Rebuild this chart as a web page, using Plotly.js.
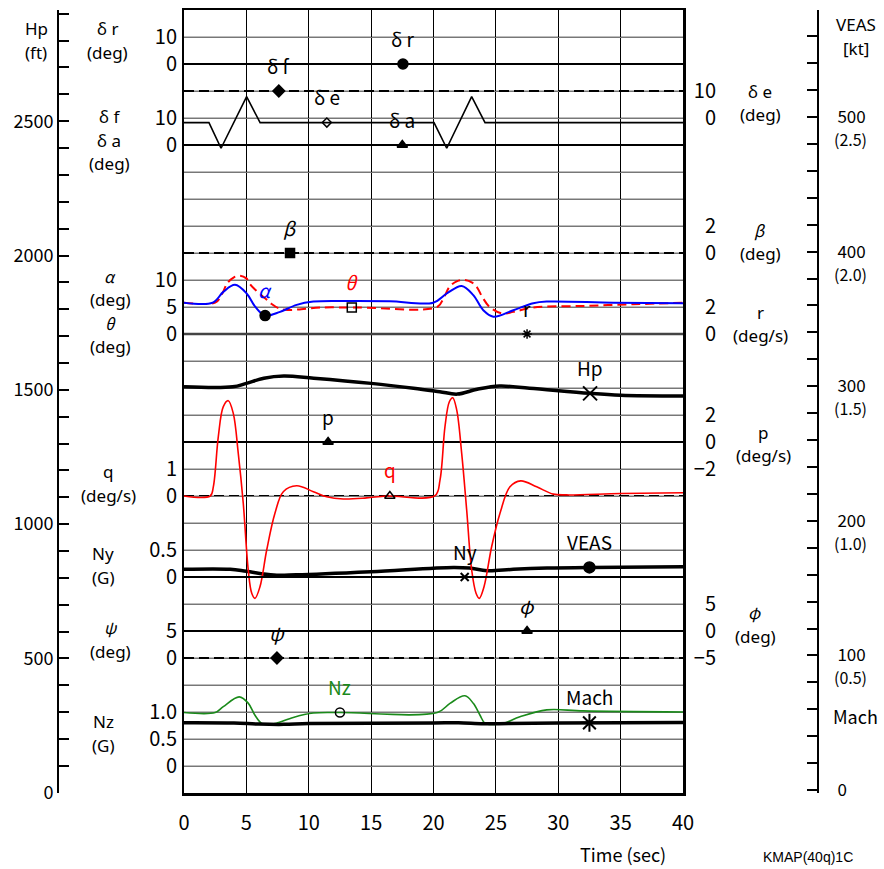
<!DOCTYPE html>
<html><head><meta charset="utf-8">
<script src="https://cdn.plot.ly/plotly-3.0.1.min.js"></script>
<style>html,body{margin:0;padding:0;background:#fff}#chart{width:884px;height:869px}</style>
</head><body><div id="chart"></div>
<script>
// ---------------- DATA ----------------
const tSpan = [0, 40];
const drVals = [0, 0];        // rudder (deg)
const dfVals = [20, 20];      // flap (deg)
const daVals = [0, 0];        // aileron (deg)
const betaVals = [0, 0];      // sideslip (deg)
const rVals = [0, 0];         // yaw rate (deg/s)
const pVals = [0, 0];         // roll rate (deg/s)
const nyVals = [0, 0];        // lateral G
const psiVals = [0, 0];       // heading (deg)
const phiVals = [0, 0];       // bank (deg)

const tDe = [0, 2.0, 2.97, 5.02, 6.1, 20.04, 21.06, 23.06, 24.13, 40];
const deVals = [-1.7, -1.7, -11.2, 7.9, -1.7, -1.7, -11.2, 7.9, -1.7, -1.7];

const tAlpha = [0, 2.3, 3.15, 4.09, 5.02, 5.69, 6.49, 7.7, 9.03, 10.37, 13.04, 16.5, 19.98, 21.06, 22.26, 23.19, 23.99, 24.8, 26.4, 28.0, 29.07, 34.4, 40];
const alphaVals = [5.8, 5.8, 7.8, 9.1, 7.5, 5.1, 3.4, 4.1, 5.4, 6.0, 6.1, 6.05, 5.8, 7.5, 8.9, 7.2, 4.4, 3.2, 4.4, 5.7, 6.0, 5.8, 5.7];

const tTheta = [0, 2.5, 3.0, 3.5, 4.0, 4.5, 5.0, 5.3, 5.8, 6.5, 7.0, 7.6, 8.3, 9.4, 11, 14, 20.3, 20.8, 21.3, 21.9, 22.5, 23.1, 23.5, 23.9, 24.5, 25.5, 26.4, 28, 32, 36, 40];
const thetaVals = [5.8, 5.8, 7.2, 9.5, 10.5, 10.8, 10.3, 9.2, 8.0, 6.6, 5.6, 4.75, 4.45, 4.6, 4.9, 4.9, 5.0, 6.6, 8.8, 9.8, 10.0, 9.5, 8.6, 6.9, 5.0, 3.8, 4.1, 4.9, 5.2, 5.5, 5.8];

const tHp = [0, 3.9, 5.0, 6.4, 8.0, 10.4, 15.0, 18.4, 20.5, 21.9, 23.5, 25.3, 27.7, 32.5, 35, 40];
const hpVals = [1511, 1511, 1524, 1543, 1551, 1543, 1524, 1506, 1493, 1484, 1502, 1514, 1506, 1487, 1480, 1477];

const tQ = [0, 2.1, 2.35, 2.75, 3.15, 3.55, 3.95, 4.35, 4.75, 5.15, 5.43, 5.69, 6.09, 6.63, 7.29, 7.96, 9.03, 10.37, 11.44, 12.77, 14.64, 16.25, 20.12, 20.52, 20.92, 21.27, 21.54, 21.86, 22.26, 22.66, 23.06, 23.41, 23.67, 24.05, 24.66, 25.33, 26.13, 26.99, 28.27, 29.6, 30.67, 35, 40];
const qVals = [0, 0, 0.34, 2.2, 3.31, 3.53, 3.06, 1.58, -0.27, -2.74, -3.6, -3.79, -3.36, -2.0, -0.64, 0.16, 0.38, 0.16, -0.03, -0.11, -0.07, 0, 0.01, 0.59, 2.57, 3.49, 3.64, 3.19, 1.58, -0.52, -2.74, -3.6, -3.79, -3.36, -1.88, -0.64, 0.34, 0.56, 0.34, 0.07, 0.04, 0.09, 0.12];

const tVeas = [0, 3.7, 5.0, 7.2, 9.0, 15.0, 21.6, 22.9, 24.3, 26.4, 29.1, 32.5, 40];
const veasVals = [164.0, 164.0, 162.5, 159.7, 159.9, 162.2, 165.4, 164.9, 162.9, 164.0, 164.9, 165.4, 165.9];

const tNz = [0, 2.5, 3.15, 4.43, 5.16, 5.69, 6.22, 6.8, 7.4, 8.76, 10.37, 12.5, 20.3, 21.32, 22.52, 23.19, 23.73, 24.13, 24.9, 25.6, 26.93, 29.07, 32, 40];
const nzVals = [0.99, 0.99, 1.10, 1.28, 1.16, 0.94, 0.79, 0.77, 0.79, 0.90, 0.98, 0.99, 0.99, 1.16, 1.30, 1.16, 0.94, 0.79, 0.77, 0.79, 0.91, 1.04, 1.02, 1.0];

const tMach = [0, 4, 6, 8, 10, 20, 22, 24, 26, 30, 40];
const machVals = [0.250, 0.249, 0.245, 0.244, 0.247, 0.249, 0.250, 0.246, 0.247, 0.249, 0.251];

// marker times (where each channel's identifying symbol sits)
const drMarkT = 17.55, dfMarkT = 7.6, deMarkT = 11.45, daMarkT = 17.5, betaMarkT = 8.5;
const alphaMarkT = 6.5, thetaMarkT = 13.45, rMarkT = 27.5, hpMarkT = 32.55, pMarkT = 11.55;
const qMarkT = 16.5, nyMarkT = 22.5, veasMarkT = 32.5, psiMarkT = 7.45, phiMarkT = 27.5;
const nzMarkT = 12.5, machMarkT = 32.5;

// tick labels
const xTicks = [0, 5, 10, 15, 20, 25, 30, 35, 40];
const hpTickVals = Array.from({length: 30}, (_, i) => i * 100);
const hpLabelEvery = 500;
const veasTickVals = Array.from({length: 30}, (_, i) => i * 20);
const veasLabelEvery = 100;
const machNotes = ['(0.5)', '(1.0)', '(1.5)', '(2.0)', '(2.5)'];
const machNoteAt = [100, 200, 300, 400, 500];

// ---------------- LAYOUT GEOMETRY ----------------
const W = 884, H = 869;
const PL = 184, PR = 683, PT = 10, PB = 793;
const NG = 29; // horizontal grid rows
const FONT = '"Noto Sans CJK JP", "Noto Sans", sans-serif';
const NAMEFONT = '"Noto Sans", "Noto Sans CJK JP", sans-serif';
const RCOL = 718; // right numeric label column

function interp(ts, vs, t) {
  for (let i = 0; i < ts.length - 1; i++) {
    if (t >= ts[i] && t <= ts[i + 1]) {
      const f = (t - ts[i]) / (ts[i + 1] - ts[i]);
      return vs[i] + f * (vs[i + 1] - vs[i]);
    }
  }
  return vs[vs.length - 1];
}
function chanRange(zero, per) { return [(0 - zero) * per, (NG - zero) * per]; }

const hpRange = [-1, 2914];
const veasRange = [-2.2, 579.5];
const yDom = [1 - PB / H, 1 - PT / H];

const layout = {
  width: W, height: H,
  margin: {l: 0, r: 0, t: 0, b: 0},
  paper_bgcolor: '#fff', plot_bgcolor: '#fff',
  showlegend: false,
  font: {family: FONT, size: 18, color: '#000'},
  xaxis: {domain: [PL / W, PR / W], range: [0, 40], tickvals: xTicks, ticks: '',
    ticklabelstandoff: 10, tickfont: {size: 20}, anchor: 'y',
    showgrid: true, gridcolor: '#000', gridwidth: 1,
    showline: true, mirror: true, linecolor: '#000', linewidth: 2.5, zeroline: false},
  yaxis: {domain: yDom, range: [0, NG], dtick: 1, tick0: 0, anchor: 'x',
    showticklabels: false, ticks: '', showgrid: true, gridcolor: '#777', gridwidth: 1,
    showline: true, mirror: true, linecolor: '#000', linewidth: 2.5, zeroline: false},
  yaxis2: {overlaying: 'y', domain: yDom, anchor: 'free', position: 58 / W, side: 'left', range: hpRange,
    tickvals: hpTickVals, ticktext: hpTickVals.map(v => v % hpLabelEvery === 0 ? String(v) : ''),
    ticks: 'inside', ticklen: 10, tickwidth: 2, tickcolor: '#000', ticklabelstandoff: 0,
    tickfont: {size: 18}, showline: true, linecolor: '#000', linewidth: 2,
    showgrid: false, zeroline: false},
  yaxis3: {overlaying: 'y', domain: yDom, anchor: 'free', position: 818 / W, side: 'right', range: veasRange,
    tickvals: veasTickVals, ticktext: veasTickVals.map(v => v % veasLabelEvery === 0 ? String(v) : ''),
    ticks: 'inside', ticklen: 10, tickwidth: 2, tickcolor: '#000', ticklabelstandoff: 15,
    tickfont: {size: 17}, showline: true, linecolor: '#000', linewidth: 2,
    showgrid: false, zeroline: false},
  annotations: [],
  shapes: []
};

// horizontal chart-paper grid, one line per grid row (drawn in the y-axis domain)
for (let k = 1; k < NG; k++) {
  layout.shapes.push({type: 'line', xref: 'x domain', yref: 'y domain', x0: 0, x1: 1,
    y0: k / NG, y1: k / NG, line: {color: '#7a7a7a', width: 1}, layer: 'below'});
}

// channel axes: [axis name, zero grid row, units per grid row, column, tick values, tick texts]
const chanDefs = [
  ['yaxis4', 27, 10, 'L', [0, 10], ['0', '10']],           // δr
  ['yaxis5', 24, 10, 'L', [0, 10], ['0', '10']],           // δf, δa
  ['yaxis6', 25, 10, 'R', [0, 10], ['0', '10']],           // δe
  ['yaxis7', 20, 2, 'R', [0, 2], ['0', '2']],              // β
  ['yaxis8', 17, 5, 'L', [0, 5, 10], ['0', '5', '10']],    // α, θ
  ['yaxis9', 17, 2, 'R', [0, 2], ['0', '2']],              // r
  ['yaxis10', 13, 2, 'R', [-2, 0, 2], ['−2', '0', '2']],   // p
  ['yaxis11', 11, 1, 'L', [0, 1], ['0', '1']],             // q
  ['yaxis12', 8, 0.5, 'L', [0, 0.5], ['0', '0.5']],        // Ny
  ['yaxis13', 5, 5, 'L', [0, 5], ['0', '5']],              // ψ
  ['yaxis14', 6, 5, 'R', [-5, 0, 5], ['−5', '0', '5']],    // φ
  ['yaxis15', 1, 0.5, 'L', [0, 0.5, 1.0], ['0', '0.5', '1.0']] // Nz
];
chanDefs.forEach(([name, zero, per, col, tv, tt]) => {
  const ax = {overlaying: 'y', domain: yDom, range: chanRange(zero, per), tickvals: tv, ticktext: tt,
    ticks: '', showgrid: false, zeroline: false, showline: false, tickfont: {size: 20}};
  if (col === 'L') { ax.anchor = 'x'; ax.side = 'left'; ax.ticklabelstandoff = 6; }
  else { ax.anchor = 'free'; ax.position = RCOL / W; ax.side = 'left'; ax.ticklabelstandoff = 2; }
  layout[name] = ax;
});
// Mach shares the VEAS scale: (0.5) at 100 kt
layout.yaxis16 = {overlaying: 'y', domain: yDom, range: veasRange.map(v => v / 200), visible: false, showgrid: false, zeroline: false};

// ---------------- TRACES ----------------
// empty trace that registers the base grid axis pair (x, y)
const traces = [{type: 'scatter', mode: 'lines', x: [], y: [], xaxis: 'x', yaxis: 'y', hoverinfo: 'skip'}];
function line(t, v, yax, color, width, dash, shape) {
  traces.push({type: 'scatter', mode: 'lines', x: t, y: v, yaxis: yax, hoverinfo: 'skip',
    line: {color: color, width: width, dash: dash || 'solid', shape: shape || 'linear'}});
}
function mark(tm, ts, vs, yax, symbol, size, label, labColor, lw) {
  const v = interp(ts, vs, tm);
  traces.push({type: 'scatter', mode: 'markers', x: [tm], y: [v], yaxis: yax, hoverinfo: 'skip',
    marker: {symbol: symbol, size: size, color: '#000', line: {color: '#000', width: lw || 1.5}}});
  layout.annotations.push({x: tm, y: v, xref: 'x', yref: yax, text: label, borderpad: 0,
    showarrow: false, yshift: 26, font: {size: 19, color: labColor || '#000'}});
}
const DASH = '10px,5px';

// reference dashed zero for q
layout.shapes.push({type: 'line', xref: 'x', yref: 'y11', x0: 0, x1: 40, y0: 0, y1: 0,
  line: {color: '#000', width: 2, dash: DASH}, layer: 'below'});

line(tSpan, drVals, 'y4', '#000', 2);
line(tSpan, dfVals, 'y5', '#000', 2, DASH);
line(tSpan, daVals, 'y5', '#000', 2);
line(tDe, deVals, 'y6', '#000', 1.6);
line(tSpan, betaVals, 'y7', '#000', 2, DASH);
line(tSpan, rVals, 'y9', '#444', 2.5);
line(tSpan, pVals, 'y10', '#000', 2);
line(tSpan, nyVals, 'y12', '#000', 2.2);
line(tSpan, psiVals, 'y13', '#000', 2, DASH);
line(tSpan, phiVals, 'y14', '#000', 2);
line(tHp, hpVals, 'y2', '#000', 3.5, 'solid', 'spline');
line(tVeas, veasVals, 'y3', '#000', 3.5, 'solid', 'spline');
line(tMach, machVals, 'y16', '#000', 3.5, 'solid', 'spline');
line(tQ, qVals, 'y11', '#ff0000', 1.6, 'solid', 'spline');
line(tNz, nzVals, 'y15', '#1a8a1a', 1.6, 'solid', 'spline');
line(tTheta, thetaVals, 'y8', '#ff0000', 2, '9px,5px', 'spline');
line(tAlpha, alphaVals, 'y8', '#0000ff', 2, 'solid', 'spline');

mark(drMarkT, tSpan, drVals, 'y4', 'circle', 10, 'δ r');
mark(dfMarkT, tSpan, dfVals, 'y5', 'diamond', 9, 'δ f');
mark(deMarkT, tDe, deVals, 'y6', 'diamond-open', 7, 'δ e');
mark(daMarkT, tSpan, daVals, 'y5', 'triangle-up', 9, 'δ a');
mark(betaMarkT, tSpan, betaVals, 'y7', 'square', 9, '<i>β</i>');
mark(alphaMarkT, tAlpha, alphaVals, 'y8', 'circle', 10, '<i>α</i>', '#0000ff');
mark(thetaMarkT, tTheta, thetaVals, 'y8', 'square-open', 9, '<i>θ</i>', '#ff0000');
mark(rMarkT, tSpan, rVals, 'y9', 'asterisk-open', 8, 'r');
mark(hpMarkT, tHp, hpVals, 'y2', 'x-thin-open', 14, 'Hp', '#000', 2);
mark(pMarkT, tSpan, pVals, 'y10', 'triangle-up', 9, 'p');
mark(qMarkT, tQ, qVals, 'y11', 'triangle-up-open', 9, 'q', '#ff0000');
mark(nyMarkT, tSpan, nyVals, 'y12', 'x-thin-open', 8, 'Ny', '#000', 2);
mark(veasMarkT, tVeas, veasVals, 'y3', 'circle', 11, 'VEAS');
mark(psiMarkT, tSpan, psiVals, 'y13', 'diamond', 9, '<i>ψ</i>');
mark(phiMarkT, tSpan, phiVals, 'y14', 'triangle-up', 9, '<i>φ</i>');
mark(nzMarkT, tNz, nzVals, 'y15', 'circle-open', 9, 'Nz', '#1a8a1a');
mark(machMarkT, tMach, machVals, 'y16', 'asterisk-open', 15, 'Mach', '#000', 2);

// ---------------- TEXT LABELS ----------------
function A(text, x, y, size, extra) {
  layout.annotations.push(Object.assign({xref: 'paper', yref: 'paper', x: x / W, y: 1 - y / H,
    xanchor: 'center', yanchor: 'middle', showarrow: false, text: text, borderpad: 0,
    font: {size: size || 16, color: '#000'}}, extra || {}));
}
// stacked channel names: one annotation per line (Greek symbols in the CJK face)
function stack(lines, x, y0, gap) {
  lines.forEach((txt, i) => {
    const greek = txt.indexOf('<i>') === 0;
    const f = greek ? {size: 16, color: '#000', family: FONT} : {size: 17, color: '#000', family: NAMEFONT};
    A(txt, x, y0 + i * gap, f.size, {font: f});
  });
}
stack(['Hp', '(ft)'], 36, 28, 24);
stack(['δ r', '(deg)'], 107, 28, 24);
stack(['δ f', 'δ a', '(deg)'], 109, 116, 24);
stack(['<i>α</i>', '(deg)', '<i>θ</i>', '(deg)'], 110, 276, 23.5);
stack(['q', '(deg/s)'], 108, 471, 24.5);
stack(['Ny', '(G)'], 103, 553, 24);
stack(['<i>ψ</i>', '(deg)'], 110, 627, 24);
stack(['Nz', '(G)'], 103, 721, 24);
stack(['δ e', '(deg)'], 760, 91, 23.5);
stack(['<i>β</i>', '(deg)'], 760, 230, 23.5);
stack(['r', '(deg/s)'], 760, 312, 23.5);
stack(['p', '(deg/s)'], 763, 432, 23.5);
stack(['<i>φ</i>', '(deg)'], 755, 612, 24);
stack(['VEAS', '[kt]'], 856, 24, 24);
A('Mach', 855, 716, 18);
A('Time (sec)', 623, 854, 18);
A('KMAP(40q)1C', 808, 857, 14, {font: {size: 14, color: '#000', family: '"Liberation Sans", Arial, sans-serif'}});
machNotes.forEach((txt, i) => {
  layout.annotations.push({xref: 'paper', yref: 'y3', x: 850 / W, y: machNoteAt[i], yshift: -22,
    xanchor: 'center', yanchor: 'middle', showarrow: false, text: txt, borderpad: 0,
    font: {size: 16, color: '#000'}});
});

Plotly.newPlot('chart', traces, layout, {staticPlot: true, displayModeBar: false});
</script>
</body></html>
